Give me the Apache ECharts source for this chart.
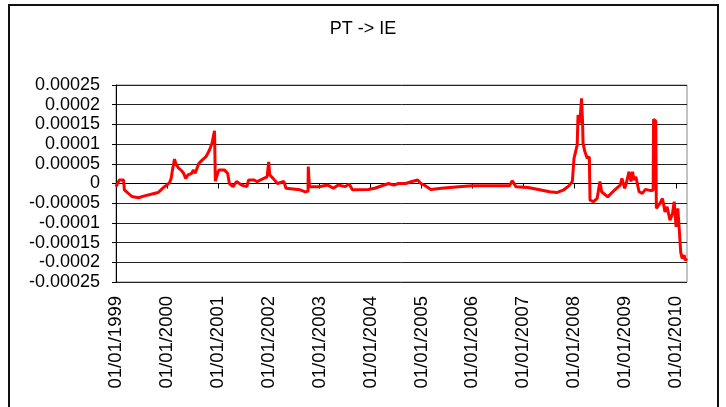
<!DOCTYPE html>
<html>
<head>
<meta charset="utf-8">
<script src="https://cdn.jsdelivr.net/npm/echarts@6/dist/echarts.min.js"></script>
<style>
  html, body { margin: 0; padding: 0; background: #fff; }
  #frame {
    position: absolute;
    left: 8px;
    top: 4px;
    width: 707px;
    height: 420px;
    border: 2px solid #111;
  }
  #chart {
    position: absolute;
    left: 0;
    top: 0;
    width: 726px;
    height: 407px;
  }
</style>
</head>
<body>
<div id="frame"></div>
<div id="chart"></div>
<script>
// dates and PT -> IE values
var dates = [
  '1999-01-01', '1999-01-05', '1999-01-25', '1999-02-24', '1999-03-02', '1999-04-25', '1999-06-10',
  '1999-08-20', '1999-10-30', '1999-12-15', '2000-01-01', '2000-01-20', '2000-02-01', '2000-02-10',
  '2000-02-25', '2000-03-05', '2000-03-25', '2000-04-12', '2000-04-30', '2000-05-15', '2000-06-01',
  '2000-06-27', '2000-07-10', '2000-07-22', '2000-08-18', '2000-09-12', '2000-10-08', '2000-11-02',
  '2000-11-20', '2000-12-08', '2000-12-14', '2001-01-07', '2001-02-18', '2001-03-12', '2001-03-25',
  '2001-04-20', '2001-05-15', '2001-06-20', '2001-07-28', '2001-08-10', '2001-09-15',
  '2001-10-10', '2001-11-15', '2001-12-20', '2002-01-01', '2002-01-08', '2002-02-01', '2002-03-05',
  '2002-04-20', '2002-05-05', '2002-08-15', '2002-09-20', '2002-10-10', '2002-10-12', '2002-10-20',
  '2002-12-28', '2003-03-01', '2003-04-10', '2003-05-15', '2003-07-05', '2003-08-01', '2003-08-25',
  '2003-12-15', '2004-02-01', '2004-05-10', '2004-06-15', '2004-07-20', '2004-09-10', '2004-10-25',
  '2004-12-05', '2004-12-28', '2005-01-20', '2005-03-10', '2005-05-25', '2005-09-25', '2005-12-30',
  '2006-04-25', '2006-07-10', '2006-09-25', '2006-10-15', '2006-11-10', '2007-02-05', '2007-04-20',
  '2007-07-10', '2007-08-30', '2007-10-20', '2007-11-25', '2007-12-20', '2008-01-01', '2008-01-15',
  '2008-01-24', '2008-01-30', '2008-02-12', '2008-02-24', '2008-03-02', '2008-03-06', '2008-03-19',
  '2008-04-05', '2008-04-20', '2008-04-25', '2008-05-20', '2008-06-15', '2008-07-05', '2008-07-17',
  '2008-08-30', '2008-10-20', '2008-11-28', '2008-12-10', '2008-12-30', '2009-01-07', '2009-01-30',
  '2009-02-12', '2009-02-24', '2009-03-07', '2009-03-20', '2009-04-12', '2009-05-05', '2009-05-28',
  '2009-07-05', '2009-07-22', '2009-07-25', '2009-08-10', '2009-08-14', '2009-09-10', '2009-09-27',
  '2009-10-15', '2009-10-30', '2009-11-20', '2009-12-08', '2009-12-20', '2010-01-03', '2010-01-15',
  '2010-01-25', '2010-02-05', '2010-02-15', '2010-03-01', '2010-03-10', '2010-03-20'
];
var values = [
  -0.8e-5, -1.2e-5, 0.9e-5, 0.9e-5, -1.6e-5, -3.3e-5, -3.6e-5,
  -2.9e-5, -2.3e-5, -0.8e-5, -0.4e-5, 0.2e-5, 1.3e-5, 3.4e-5,
  6.2e-5, 5.1e-5, 3.9e-5, 3.4e-5, 2.6e-5, 1.3e-5, 2.2e-5,
  2.6e-5, 3.4e-5, 2.6e-5, 5.1e-5, 6.0e-5, 6.8e-5, 8.5e-5,
  10.2e-5, 13.4e-5, 0.6e-5, 3.4e-5, 3.4e-5, 2.6e-5, 0.0e-5,
  -0.8e-5, 0.5e-5, -0.4e-5, -0.8e-5, 0.9e-5, 0.9e-5,
  0.5e-5, 1.1e-5, 1.7e-5, 5.5e-5, 2.2e-5, 1.3e-5, 0.0e-5,
  0.5e-5, -1.2e-5, -1.6e-5, -2.1e-5, -2.0e-5, 4.3e-5, -0.8e-5,
  -0.8e-5, -0.4e-5, -1.2e-5, -0.4e-5, -0.8e-5, -0.1e-5, -1.6e-5,
  -1.5e-5, -1.2e-5, 0.0e-5, -0.4e-5, 0.0e-5, 0.0e-5, 0.5e-5,
  0.9e-5, 0.0e-5, -0.4e-5, -1.5e-5, -1.2e-5, -0.8e-5, -0.6e-5,
  -0.6e-5, -0.6e-5, -0.6e-5, 0.7e-5, -0.8e-5, -1.0e-5, -1.5e-5,
  -2.1e-5, -2.3e-5, -1.6e-5, -0.6e-5, 0.5e-5, 6.4e-5, 6.0e-5,
  9.8e-5, 17.4e-5, 15.3e-5, 21.6e-5, 16.1e-5, 10.2e-5, 8.1e-5,
  6.4e-5, 6.8e-5, -4.2e-5, -4.6e-5, -3.8e-5, 0.5e-5, -2.1e-5,
  -3.4e-5, -1.6e-5, -0.4e-5, 1.3e-5, -1.2e-5, -0.4e-5, 3.0e-5,
  0.5e-5, 3.0e-5, 0.9e-5, 1.7e-5, -2.1e-5, -2.5e-5, -1.5e-5,
  -1.8e-5, -1.7e-5, 16.3e-5, 15.8e-5, -6.3e-5, -5.0e-5, -3.8e-5,
  -7.2e-5, -5.9e-5, -9.3e-5, -7.6e-5, -4.6e-5, -11.0e-5, -6.3e-5,
  -11.5e-5, -17.5e-5, -19.0e-5, -18.2e-5, -19.5e-5, -19.0e-5
];
var yearTicks = [1999, 2000, 2001, 2002, 2003, 2004, 2005, 2006, 2007, 2008, 2009, 2010];

function toUTC(s) {
  var p = s.split('-');
  return Date.UTC(+p[0], +p[1] - 1, +p[2]);
}

var seriesData = [];
for (var i = 0; i < dates.length; i++) {
  seriesData.push([toUTC(dates[i]), values[i]]);
}
var tickTimes = yearTicks.map(function (y) { return Date.UTC(y, 0, 1); });

var FONT = 'Liberation Sans, Arial, sans-serif';

var option = {
  animation: false,
  backgroundColor: 'transparent',
  title: {
    text: 'PT -> IE',
    left: 'center',
    top: 15,
    textStyle: { fontFamily: FONT, fontSize: 18, fontWeight: 'normal', color: '#000' }
  },
  grid: {
    left: 116,
    right: 39,
    top: 85,
    bottom: 125,
    show: true,
    borderColor: '#888',
    borderWidth: 1
  },
  xAxis: {
    type: 'value',
    min: Date.UTC(1999, 0, 1),
    max: Date.UTC(2010, 2, 22),
    axisLine: { lineStyle: { color: '#000', width: 1 } },
    axisTick: { show: true, length: 5, customValues: tickTimes, lineStyle: { color: '#000' } },
    splitLine: { show: false },
    axisLabel: {
      customValues: tickTimes,
      rotate: 90,
      margin: 14,
      fontFamily: FONT,
      fontSize: 18.5,
      color: '#000',
      formatter: function (v) {
        var d = new Date(v);
        var dd = ('0' + d.getUTCDate()).slice(-2);
        var mm = ('0' + (d.getUTCMonth() + 1)).slice(-2);
        return dd + '/' + mm + '/' + d.getUTCFullYear();
      }
    }
  },
  yAxis: {
    type: 'value',
    min: -0.00025,
    max: 0.00025,
    interval: 0.00005,
    axisLine: { show: true, lineStyle: { color: '#000', width: 1 } },
    axisTick: { show: true, length: 4, lineStyle: { color: '#000' } },
    splitLine: { show: true, lineStyle: { color: '#222', width: 1 } },
    axisLabel: {
      margin: 16,
      fontFamily: FONT,
      fontSize: 18,
      color: '#000',
      formatter: function (v) {
        var r = Math.round(v * 100000) / 100000;
        if (r === 0) return '0';
        return r.toFixed(5).replace(/0+$/, '');
      }
    }
  },
  series: [{
    type: 'line',
    data: seriesData,
    showSymbol: false,
    lineStyle: { color: '#ff0000', width: 3 },
    itemStyle: { color: '#ff0000' }
  }]
};

var chart = echarts.init(document.getElementById('chart'), null, { renderer: 'canvas' });
chart.setOption(option);
</script>
</body>
</html>
